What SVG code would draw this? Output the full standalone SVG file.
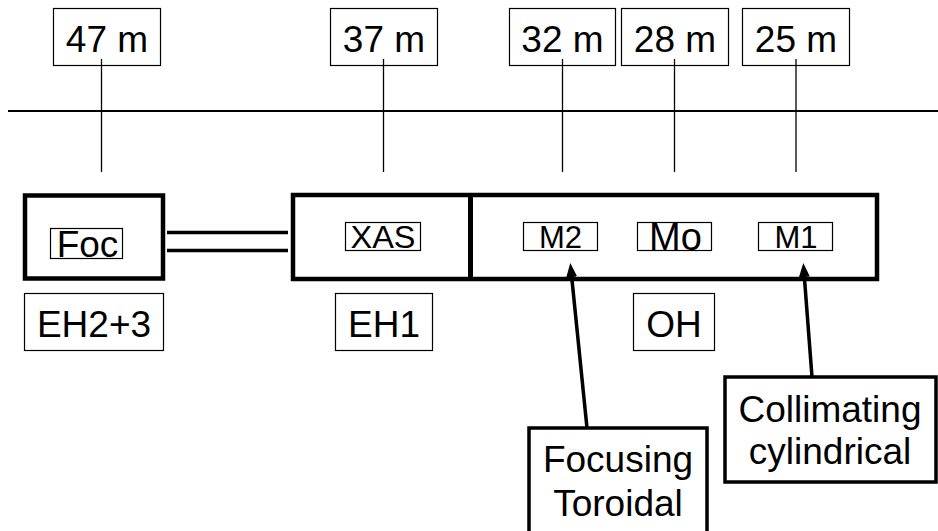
<svg xmlns="http://www.w3.org/2000/svg" width="938" height="531" viewBox="0 0 938 531">
<style>
text{font-family:"Liberation Sans",Arial,sans-serif;fill:#000;text-anchor:middle}
.big{font-size:37px}
.sm{font-size:31px}
.thin{fill:#fff;stroke:#000;stroke-width:1.2}
.thick{fill:#fff;stroke:#000;stroke-width:4.5}
.mid{fill:#fff;stroke:#000;stroke-width:3.5}
.tick{stroke:#000;stroke-width:1.3;fill:none}
.dbl{stroke:#000;stroke-width:3.5;fill:none}
.arr{stroke:#000;stroke-width:3.5;fill:none;marker-end:url(#ah)}
</style>
<defs>
<marker id="ah" markerUnits="userSpaceOnUse" markerWidth="14" markerHeight="12" refX="4" refY="6" viewBox="0 0 14 12" orient="auto">
<path d="M0,0.5 L14,6 L0,11.5 Z" fill="#000"/>
</marker>
</defs>
<rect width="938" height="531" fill="#fff"/>

<g id="labels-top">
<g id="d47"><rect class="thin" x="53.5" y="8.5" width="107" height="57"/><text class="big" x="107" y="52">47 m</text></g>
<g id="d37"><rect class="thin" x="330.5" y="8.5" width="107" height="57"/><text class="big" x="384" y="52">37 m</text></g>
<g id="d32"><rect class="thin" x="509.5" y="8.5" width="106" height="57"/><text class="big" x="562.5" y="52">32 m</text></g>
<g id="d28"><rect class="thin" x="621.5" y="8.5" width="107" height="57"/><text class="big" x="675" y="52">28 m</text></g>
<g id="d25"><rect class="thin" x="742.5" y="8.5" width="107" height="57"/><text class="big" x="796" y="52">25 m</text></g>
</g>

<g id="connectors">
<line x1="8" y1="111" x2="938" y2="111" stroke="#000" stroke-width="2"/>
<line class="tick" x1="101.5" y1="59" x2="101.5" y2="172"/>
<line class="tick" x1="383.5" y1="59" x2="383.5" y2="172"/>
<line class="tick" x1="562.5" y1="59" x2="562.5" y2="172"/>
<line class="tick" x1="674.5" y1="59" x2="674.5" y2="172"/>
<line class="tick" x1="796" y1="59" x2="796" y2="172"/>
<line class="dbl" x1="167" y1="232.5" x2="288" y2="232.5"/>
<line class="dbl" x1="167" y1="250.5" x2="288" y2="250.5"/>
</g>

<g id="EH23"><rect class="thick" x="25" y="195.5" width="138" height="83"/></g>
<g id="EH1-OH"><rect class="thick" x="293" y="195" width="584" height="84"/><line x1="470.5" y1="195" x2="470.5" y2="279" stroke="#000" stroke-width="5"/></g>

<g id="Foc"><rect class="thin" x="50.5" y="228.5" width="72" height="30"/><text class="big" x="87.5" y="256.5">Foc</text></g>
<g id="XAS"><rect class="thin" x="345.5" y="222.5" width="75" height="28"/><text class="sm" x="383" y="248" textLength="65" lengthAdjust="spacingAndGlyphs">XAS</text></g>
<g id="M2"><rect class="thin" x="523.5" y="222.5" width="74" height="28"/><text class="sm" x="560.5" y="248">M2</text></g>
<g id="Mo"><rect class="thin" x="637.5" y="222.5" width="74" height="28"/><text style="font-size:38px" x="675.5" y="250">Mo</text></g>
<g id="M1"><rect class="thin" x="758.5" y="222.5" width="74" height="28"/><text class="sm" x="796" y="248">M1</text></g>

<g id="lab-EH23"><rect class="thin" x="24.5" y="293.5" width="139" height="57"/><text class="big" x="94" y="337">EH2+3</text></g>
<g id="lab-EH1"><rect class="thin" x="335.5" y="293.5" width="97" height="57"/><text class="big" x="384" y="337">EH1</text></g>
<g id="lab-OH"><rect class="thin" x="633.5" y="293.5" width="81" height="57"/><text class="big" x="674" y="337">OH</text></g>

<g id="arrows">
<line class="arr" x1="587" y1="428" x2="571.3" y2="273"/>
<line class="arr" x1="812" y1="377" x2="804.06" y2="273"/>
</g>

<g id="Focusing"><rect class="mid" x="529" y="428" width="178" height="120"/><text class="big" x="618" y="472">Focusing</text><text class="big" x="618" y="516">Toroidal</text></g>
<g id="Collimating"><rect class="mid" x="725" y="377" width="211" height="105"/><text class="big" x="830" y="422">Collimating</text><text class="big" x="830" y="464">cylindrical</text></g>
</svg>
